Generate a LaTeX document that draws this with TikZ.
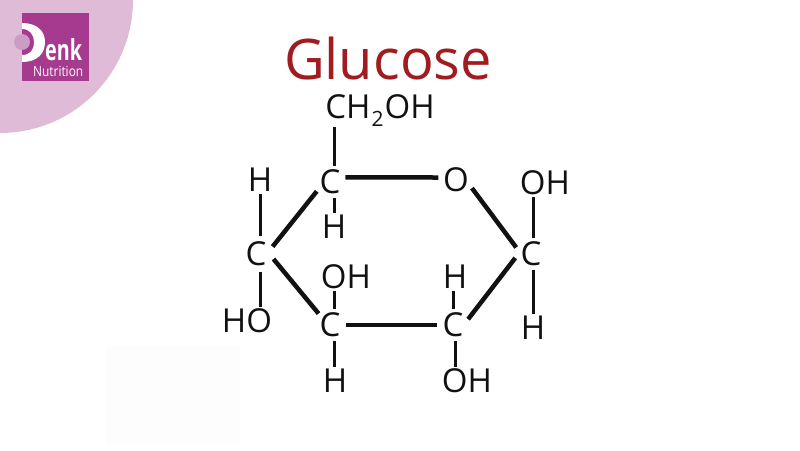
\documentclass[tikz,border=0pt]{standalone}
\usepackage{fontspec}
\setmainfont{Open Sans}
\usepackage{xcolor}
\usepackage{tikz}
\definecolor{logopink}{HTML}{E0BBD8}
\definecolor{logopurple}{HTML}{A63A8E}
\definecolor{logodot}{HTML}{CB9CC6}
\definecolor{titlered}{HTML}{A01C20}
\definecolor{bondblack}{HTML}{111111}
\definecolor{smudge}{HTML}{FDFDFD}
\tikzset{
  atomlabel/.style={text=bondblack,inner sep=2pt,font=\fontsize{33}{33}\selectfont},
  ringatom/.style={text=bondblack,circle,inner sep=0pt,font=\fontsize{33}{33}\selectfont,minimum size=28pt},
}
\begin{document}
\begin{tikzpicture}[x=1pt,y=-1pt]
        \useasboundingbox (0,0) rectangle (800,450);
        \fill[white] (0,0) rectangle (800,450);
        \fill[smudge] (106,346) rectangle (240,445);
        \begin{scope}
          \clip (0,0) rectangle (800,450);
          \fill[logopink] (0,0) circle[radius=133];
        \end{scope}
        \fill[logopurple] (22,13) rectangle (89,81);
        \fill[white] (22,23) .. controls (37,23) and (45,31) .. (45,42) .. controls (45,54) and (37,62) .. (22,62) -- (22,55) .. controls (30,55) and (34,50) .. (34,42) .. controls (34,35) and (30,29) .. (22,29) -- cycle;
        \fill[logodot] (22,42) circle[radius=8];
        \node[text=white,inner sep=0pt,anchor=base west] (enk) at (45,60) {\fontsize{29}{29}\selectfont\bfseries\scalebox{0.68}[1]{enk}};
        \node[text=white,inner sep=0pt,anchor=base west] (nutrition) at (33,76) {\fontsize{14}{14}\selectfont\scalebox{0.85}[1]{Nutrition}};
        \node[text=titlered,inner sep=0pt] (title) at (388,58) {\fontsize{56}{56}\selectfont Glucose};
        \begin{scope}[every node/.style={ringatom}]
          \node (ct) at (330,182) {C};
          \node (o) at (456,180) {O};
          \node[minimum size=32pt] (cr) at (531,254) {C};
          \node (cbr) at (453,325) {C};
          \node (cbl) at (330,325) {C};
          \node[minimum size=36pt] (cl) at (256,254) {C};
        \end{scope}
        \begin{scope}[every node/.style={atomlabel}]
          \node[inner sep=0pt] (ch) at (380,111) {CH\kern1pt\raisebox{-8pt}{\fontsize{21}{21}\selectfont 2}\kern1pt OH};
          \node (htl) at (260,180) {H};
          \node (ht) at (334,227) {H};
          \node (ohr) at (545,183) {OH};
          \node (hr) at (533,328) {H};
          \node (ohm) at (346,277) {OH};
          \node (hm) at (455,277) {H};
          \node (hol) at (247,321) {HO};
          \node (hb) at (335,381) {H};
          \node (ohb) at (467,381) {OH};
        \end{scope}
        \begin{scope}[every edge/.style={draw=bondblack,line width=4.5pt}]
          \path (ct.17) edge (o.172);
          \path (o.-27) edge (cr.156);
          \path (cr.194) edge (cbr.21);
          \path (cbr.west) edge (cbl.east);
          \path (cbl.135) edge (cl.-16);
          \path (cl.24) edge (ct.215);
        \end{scope}
        \begin{scope}[every edge/.style={draw=bondblack,line width=3pt}]
          \path (ht.north |- ch.south) edge (ht.north |- ct.north);
          \path (ht.north |- ct.south) edge (ht.north);
          \path (htl.south) edge (htl.south |- cl.north);
          \path (htl.south |- cl.south) edge (htl.south |- hol.north);
          \path (hr.north |- ohr.south) edge (hr.north |- cr.north);
          \path (hr.north |- cr.south) edge (hr.north);
          \path (ht.north |- ohm.south) edge (ht.north |- cbl.north);
          \path (ht.north |- cbl.south) edge (ht.north |- hb.north);
          \path (cbr.north |- hm.south) edge (cbr.north);
          \path (hm.south |- cbr.south) edge (hm.south |- ohb.north);
        \end{scope}
      \end{tikzpicture}
\end{document}
